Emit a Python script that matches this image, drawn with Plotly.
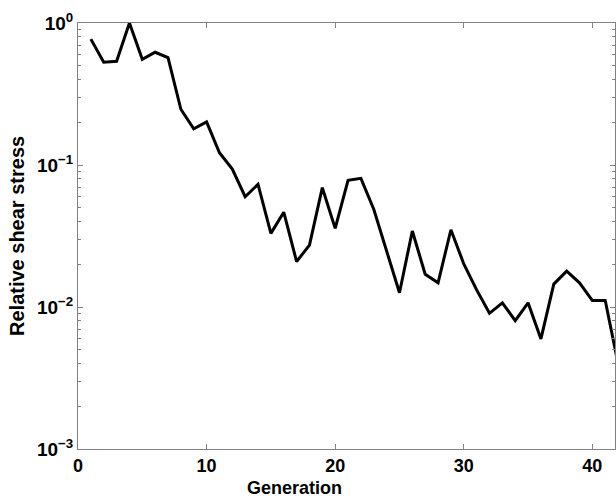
import plotly.graph_objects as go

generation = list(range(1, 43))
stress = [0.77, 0.53, 0.537, 1.0, 0.555, 0.622, 0.57, 0.247, 0.180, 0.201,
          0.122, 0.0937, 0.0598, 0.0731, 0.033, 0.0465, 0.0209, 0.0273, 0.0692, 0.0358,
          0.078, 0.0805, 0.0488, 0.0250, 0.0126, 0.0343, 0.0170, 0.0148, 0.0350, 0.0201,
          0.0132, 0.00903, 0.0107, 0.00802, 0.0107, 0.00596, 0.0145, 0.0179, 0.0148, 0.0111,
          0.0111, 0.0040]

y_tickvals = [1e-3, 1e-2, 1e-1, 1]
y_ticktext = ["10<sup>\u22123</sup>", "10<sup>\u22122</sup>", "10<sup>\u22121</sup>", "10<sup>0</sup>"]
y_minor = [m * d for d in (1e-3, 1e-2, 1e-1) for m in range(2, 10)]
x_tickvals = [0, 10, 20, 30, 40]

FONT = "Liberation Sans, Arial, Helvetica, sans-serif"
AX = "#808080"

fig = go.Figure()
fig.add_trace(go.Scatter(x=generation, y=stress, mode="lines",
                         line=dict(color="black", width=3), showlegend=False))

fig.update_layout(
    width=616, height=499,
    margin=dict(l=78, r=1, t=23, b=50),
    paper_bgcolor="white", plot_bgcolor="white",
    font=dict(family=FONT, color="black"),
    xaxis=dict(range=[0, 41.76], tickvals=x_tickvals, ticks="inside", ticklen=5,
               tickcolor=AX, showline=True, linecolor=AX, linewidth=1, mirror="ticks",
               showgrid=False, zeroline=False,
               tickfont=dict(size=18, family=FONT, weight="bold")),
    yaxis=dict(type="log", range=[-3, 0], tickvals=y_tickvals, ticktext=y_ticktext,
               ticks="inside", ticklen=5, tickcolor=AX, showline=True, linecolor=AX,
               linewidth=1, mirror="ticks", showgrid=False, zeroline=False,
               tickfont=dict(size=19, family=FONT, weight="bold"),
               minor=dict(tickvals=y_minor, ticks="inside", ticklen=3, tickcolor=AX,
                          showgrid=False)),
    annotations=[
        dict(text="<b>Relative shear stress</b>", xref="paper", yref="paper",
             x=-0.1136, y=0.5, xanchor="center", yanchor="middle", textangle=-90,
             showarrow=False, font=dict(size=20, family=FONT, color="black")),
        dict(text="<b>Generation</b>", xref="paper", yref="paper",
             x=0.404, y=-0.0915, xanchor="center", yanchor="middle",
             showarrow=False, font=dict(size=18, family=FONT, color="black")),
    ],
)

fig.write_html("out.html")
